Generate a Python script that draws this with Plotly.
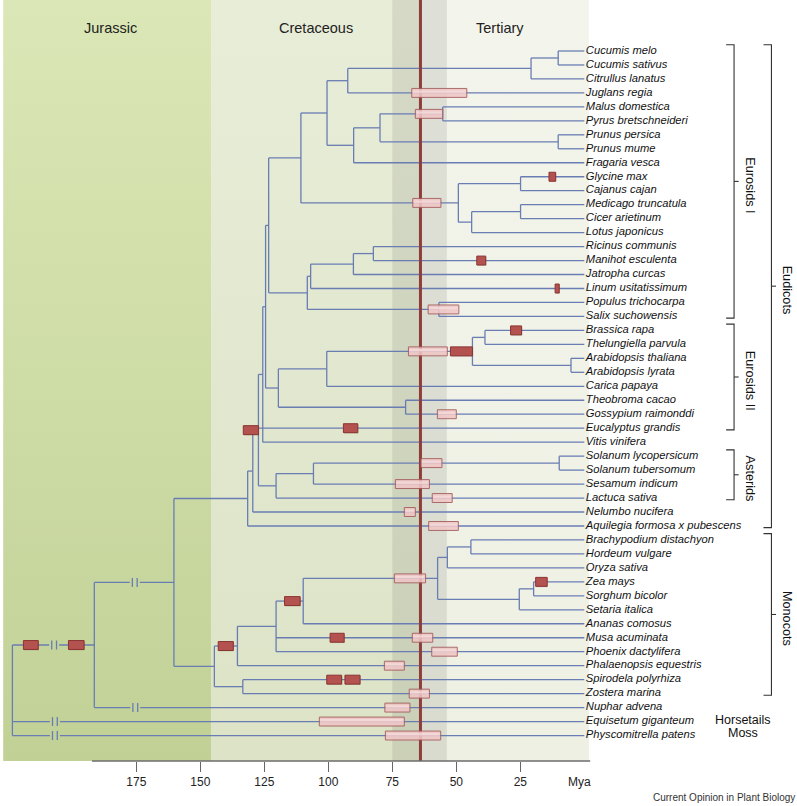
import plotly.graph_objects as go

# ---------------- data ----------------
taxa = ["Cucumis melo", "Cucumis sativus", "Citrullus lanatus", "Juglans regia",
        "Malus domestica", "Pyrus bretschneideri", "Prunus persica", "Prunus mume",
        "Fragaria vesca", "Glycine max", "Cajanus cajan", "Medicago truncatula",
        "Cicer arietinum", "Lotus japonicus", "Ricinus communis", "Manihot esculenta",
        "Jatropha curcas", "Linum usitatissimum", "Populus trichocarpa", "Salix suchowensis",
        "Brassica rapa", "Thelungiella parvula", "Arabidopsis thaliana", "Arabidopsis lyrata",
        "Carica papaya", "Theobroma cacao", "Gossypium raimonddi", "Eucalyptus grandis",
        "Vitis vinifera", "Solanum lycopersicum", "Solanum tubersomum", "Sesamum indicum",
        "Lactuca sativa", "Nelumbo nucifera", "Aquilegia formosa x pubescens",
        "Brachypodium distachyon", "Hordeum vulgare", "Oryza sativa", "Zea mays",
        "Sorghum bicolor", "Setaria italica", "Ananas comosus", "Musa acuminata",
        "Phoenix dactylifera", "Phalaenopsis equestris", "Spirodela polyrhiza",
        "Zostera marina", "Nuphar advena", "Equisetum giganteum", "Physcomitrella patens"]
taxon_parent = ["cucumis", "cucumis", "cucurb", "cucjug", "malpyr", "malpyr", "prunus", "prunus",
                "rosaceae", "glycaj", "glycaj", "medcic", "medcic", "medlot", "ricman", "ricman",
                "malp3", "malp2", "salic", "salic", "brathel", "brathel", "arab", "arab",
                "brassicales", "malvales", "malvales", "core", "rosvit", "solanum", "solanum",
                "solses", "asterids", "nelnode", "eudicots", "brahor", "brahor", "bep",
                "zeasor", "zeasor", "panic", "poales", "commel", "commel", "mono2",
                "spizos", "spizos", "angio", "root", "root"]

node_names = ["root", "angio", "mesangio", "eudicots", "nelnode", "core", "rosvit", "rosids",
              "eurosidsI", "fabA", "cucros", "cucjug", "cucurb", "cucumis", "rosaceae",
              "malprun", "malpyr", "prunus", "legumes", "glycaj", "medlot", "medcic",
              "malpig", "malp2", "malp3", "ricman", "salic", "malvids", "brassicales",
              "brassicaceae", "brathel", "arab", "malvales", "asterids", "solses", "solanum",
              "monocots", "mono2", "commel", "poales", "grasses", "bep", "brahor", "panic",
              "zeasor", "spizos"]
node_ages = [223.4, 191.4, 160.3, 131.5, 129.5, 127.3, 125.6, 124.5,
             123.3, 110.7, 100.5, 92.4, 20.8, 10.2, 90.1,
             79.8, 55.3, 10.2, 49.2, 24.9, 44.0, 24.9,
             108.2, 106.9, 90.2, 82.4, 56.8, 119.5, 100.6,
             43.7, 38.8, 5.2, 69.8, 120.4, 105.8, 9.8,
             144.5, 135.5, 120.4, 109.8, 57.3, 53.5, 44.3, 25.4,
             19.8, 133.4]
node_parents = [None, "root", "angio", "mesangio", "eudicots", "nelnode", "core", "rosvit",
                "rosids", "eurosidsI", "fabA", "cucros", "cucjug", "cucurb", "cucros",
                "rosaceae", "malprun", "malprun", "fabA", "legumes", "legumes", "medlot",
                "eurosidsI", "malpig", "malp2", "malp3", "malpig", "rosids", "malvids",
                "brassicales", "brassicaceae", "brassicaceae", "malvids", "core", "asterids", "solses",
                "mesangio", "monocots", "mono2", "commel", "poales", "grasses", "bep", "grasses",
                "panic", "monocots"]

# age-range boxes (pink) and WGD events (red): branch they sit on, older and younger bound (Mya)
pink_at = ["Juglans regia", "malpyr", "legumes", "salic", "brassicaceae", "Gossypium raimonddi",
           "solanum", "Sesamum indicum", "Lactuca sativa", "Nelumbo nucifera",
           "Aquilegia formosa x pubescens", "grasses", "Musa acuminata", "Phoenix dactylifera",
           "Phalaenopsis equestris", "Zostera marina", "Nuphar advena",
           "Equisetum giganteum", "Physcomitrella patens"]
pink_old = [67.4, 66.0, 67.0, 61.0, 68.7, 57.4, 63.8, 73.8, 59.4, 70.3, 60.8, 74.2, 67.2, 59.6,
            78.1, 68.4, 77.9, 103.5, 77.7]
pink_young = [45.9, 55.3, 56.0, 49.0, 53.5, 50.0, 55.6, 60.5, 51.6, 66.0, 49.2, 62.0, 59.2, 49.6,
              70.3, 60.5, 68.1, 70.3, 56.1]
red_at = ["Glycine max", "Manihot esculenta", "Linum usitatissimum", "brassicaceae",
          "Brassica rapa", "Eucalyptus grandis", "core", "Zea mays", "Musa acuminata",
          "Spirodela polyrhiza", "Spirodela polyrhiza", "mono2", "poales", "angio", "angio"]
red_old = [13.8, 42.0, 11.4, 52.3, 28.8, 94.1, 133.2, 19.0, 99.3, 100.6, 93.5, 143.0, 117.1,
           201.5, 219.1]
red_young = [11.2, 38.5, 9.8, 43.7, 24.5, 88.5, 127.3, 14.5, 93.8, 94.8, 87.6, 137.1, 111.0,
             195.4, 213.3]

# scale breaks (//) on branches
break_on = ["angio", "mesangio", "Nuphar advena", "Equisetum giganteum", "Physcomitrella patens"]
break_age = [207.1, 175.6, 175.4, 206.8, 206.8]

# geological periods
period_names = ["Jurassic", "Cretaceous", "Tertiary"]
period_old = [227.0, 145.8, 64.0]
period_young = [145.8, 64.0, -1.8]
period_label_x = [185.2, 104.8, 32.9]
period_top = ["#dbe7b6", "#e8edd8", "#f3f5ec"]
period_bottom = ["#c1d196", "#dce3c6", "#eef0e3"]
kpg_age = 64.0
grey_old, grey_young = 75.0, 53.7

tick_vals = [175, 150, 125, 100, 75, 50, 25]

# clade brackets: name, first taxon index, last taxon index, column
group_names = ["Eurosids I", "Eurosids II", "Asterids", "Eudicots", "Monocots"]
group_first = [0, 20, 29, 0, 35]
group_last = [19, 27, 32, 34, 46]
group_outer = [False, False, False, True, True]
side_names = ["Horsetails", "Moss"]
side_rows = [47.9, 48.85]

# ---------------- geometry helpers ----------------
W, H = 797, 806
MB = 45
PX_PER_MY = 2.56
X0_PX = 584.3       # pixel of 0 Mya
ROW0_PX, ROW_PX = 51.0, 13.97
x_range = [X0_PX / PX_PER_MY, (X0_PX - W) / PX_PER_MY]
y_top = -ROW0_PX / ROW_PX
y_bot = (H - MB - ROW0_PX) / ROW_PX
line_col = "#6a7db3"
FONT = "Liberation Sans, Arial, sans-serif"

age = {n: a for n, a in zip(node_names, node_ages)}
parent = {n: p for n, p in zip(node_names, node_parents)}
for t, p in zip(taxa, taxon_parent):
    age[t] = 0.0
    parent[t] = p
children = {n: [] for n in node_names}
for k, p in parent.items():
    if p is not None:
        children[p].append(k)

ypos = {t: float(i) for i, t in enumerate(taxa)}


def gety(k):
    if k in ypos:
        return ypos[k]
    ys = [gety(c) for c in children[k]]
    ypos[k] = (min(ys) + max(ys)) / 2
    return ypos[k]


for n in node_names:
    gety(n)

brk = dict(zip(break_on, break_age))
gap = 5 / PX_PER_MY
bar_off = 2.4 / PX_PER_MY
bar_h = 0.32

xs, ys = [], []
for k, p in parent.items():
    if p is None:
        continue
    y = ypos[k]
    a0, a1 = age[p], age[k]
    if k in brk:
        b = brk[k]
        xs += [a0, b + gap, None, b - gap, a1, None]
        ys += [y, y, None, y, y, None]
        for d in (bar_off, -bar_off):
            xs += [b + d, b + d, None]
            ys += [y - bar_h, y + bar_h, None]
    else:
        xs += [a0, a1, None]
        ys += [y, y, None]
for n in node_names:
    cy = [ypos[c] for c in children[n]]
    xs += [age[n], age[n], None]
    ys += [min(cy), max(cy), None]

fig = go.Figure()

# background bands with vertical gradient
band_top = -3.0 / ROW_PX + y_top
for nm, o, yg, ct, cb in zip(period_names, period_old, period_young, period_top, period_bottom):
    fig.add_trace(go.Scatter(
        x=[o, yg, yg, o, o], y=[band_top, band_top, y_bot, y_bot, band_top],
        mode="lines", line=dict(width=0), fill="toself",
        fillgradient=dict(type="vertical", colorscale=[[0, ct], [1, cb]],
                          start=band_top, stop=y_bot),
        hoverinfo="skip", showlegend=False))
# translucent grey band around K-Pg
fig.add_trace(go.Scatter(
    x=[grey_old, grey_young, grey_young, grey_old, grey_old],
    y=[band_top, band_top, y_bot, y_bot, band_top],
    mode="lines", line=dict(width=0), fill="toself",
    fillcolor="rgba(120,120,110,0.17)", hoverinfo="skip", showlegend=False))

# tree branches
fig.add_trace(go.Scatter(x=xs, y=ys, mode="lines", line=dict(color=line_col, width=1.3),
                         hoverinfo="skip", showlegend=False))

# K-Pg line
fig.add_trace(go.Scatter(x=[kpg_age, kpg_age], y=[band_top, y_bot], mode="lines",
                         line=dict(color="#8e3d3b", width=3), hoverinfo="skip", showlegend=False))

# species labels
fig.add_trace(go.Scatter(x=[-0.6] * len(taxa), y=list(range(len(taxa))), mode="text",
                         text=taxa, textposition="middle right",
                         textfont=dict(family=FONT, size=11.2, color="#111", style="italic"),
                         hoverinfo="skip", showlegend=False, cliponaxis=False))

shapes = []
bh = 0.32
for k, o, yg in zip(pink_at, pink_old, pink_young):
    y = ypos[k]
    shapes.append(dict(type="rect", xref="x", yref="y", x0=o, x1=yg, y0=y - bh, y1=y + bh,
                       fillcolor="#efc6c6", opacity=0.88, line=dict(color="#a35b5b", width=1)))
    shapes.append(dict(type="rect", xref="x", yref="y", x0=o - 0.4, x1=yg + 0.4,
                       y0=y - bh * 0.55, y1=y - bh * 0.05,
                       fillcolor="#f8e2e2", opacity=0.6, line=dict(width=0)))
for k, o, yg in zip(red_at, red_old, red_young):
    y = ypos[k]
    shapes.append(dict(type="rect", xref="x", yref="y", x0=o - 0.3, x1=yg - 0.3,
                       y0=y - bh + 0.06, y1=y + bh + 0.06,
                       fillcolor="rgba(90,60,50,0.25)", line=dict(width=0)))
    shapes.append(dict(type="rect", xref="x", yref="y", x0=o, x1=yg, y0=y - bh, y1=y + bh,
                       fillcolor="#b4524f", line=dict(color="#8a3431", width=1)))

# axis line
shapes.append(dict(type="line", xref="x", yref="paper", x0=192.3, x1=-2.3, y0=0, y1=0,
                   line=dict(color="#6d6d6d", width=1.6)))

# clade brackets (brace style: ends toward the tree, middle toward the label)
bx, by = [], []
for f, l, outer in zip(group_first, group_last, group_outer):
    xc = -73.1 if outer else -58.5
    top, bot = f - 0.45, l + 0.12
    bx += [xc + 3.1, xc, xc, xc + 3.1, None, xc, xc - 1.8, None]
    by += [top, top, bot, bot, None, (top + bot) / 2, (top + bot) / 2, None]
fig.add_trace(go.Scatter(x=bx, y=by, mode="lines", line=dict(color="#333", width=1.1),
                         hoverinfo="skip", showlegend=False, cliponaxis=False))

annos = []
for nm, f, l, outer in zip(group_names, group_first, group_last, group_outer):
    xc = -79.2 if outer else -64.6
    annos.append(dict(x=xc, y=(f - 0.45 + l + 0.12) / 2 + 0.25, xref="x", yref="y", text=nm,
                      textangle=90, showarrow=False,
                      font=dict(family=FONT, size=12.7, color="#111")))
for nm, r in zip(side_names, side_rows):
    annos.append(dict(x=-61.8, y=r, xref="x", yref="y", text=nm, showarrow=False,
                      font=dict(family=FONT, size=12.5, color="#111")))
for nm, xl in zip(period_names, period_label_x):
    annos.append(dict(x=xl, y=(27.5 - ROW0_PX) / ROW_PX, xref="x", yref="y", text=nm,
                      showarrow=False, font=dict(family=FONT, size=14.5, color="#222")))
annos.append(dict(x=2.0, y=-(782 - (H - MB)) / (H - MB), xref="x", yref="paper",
                  text="Mya", showarrow=False, yanchor="middle",
                  font=dict(family=FONT, size=12, color="#222")))
annos.append(dict(x=1, xanchor="right", y=-(797 - (H - MB)) / (H - MB), yref="paper",
                  xref="paper", text="Current Opinion in Plant Biology", showarrow=False,
                  yanchor="middle", font=dict(family=FONT, size=10, color="#333")))

fig.update_layout(
    width=W, height=H, margin=dict(l=0, r=0, t=0, b=MB),
    paper_bgcolor="white", plot_bgcolor="white",
    shapes=shapes, annotations=annos, showlegend=False,
    xaxis=dict(range=x_range, tickvals=tick_vals, ticks="outside", ticklen=10,
               tickwidth=1.3, tickcolor="#666", showgrid=False, zeroline=False,
               showline=False, tickfont=dict(family=FONT, size=12, color="#222"),
               fixedrange=True),
    yaxis=dict(range=[y_bot, y_top], visible=False, showgrid=False, zeroline=False,
               fixedrange=True),
)
fig.write_html("out.html", config={"displayModeBar": False},
               post_script="document.body.style.margin='0';document.body.style.padding='0';"
                           "document.body.style.overflow='hidden';")
